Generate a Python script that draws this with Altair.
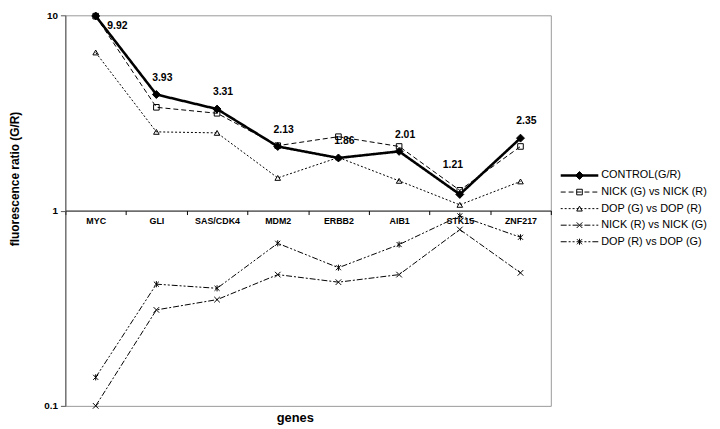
import altair as alt
import pandas as pd

# ---- data ----
genes = ["MYC", "GLI", "SAS/CDK4", "MDM2", "ERBB2", "AIB1", "STK15", "ZNF217"]
series_names = [
    "CONTROL(G/R)",
    "NICK (G) vs NICK (R)",
    "DOP (G) vs DOP (R)",
    "NICK (R) vs NICK (G)",
    "DOP (R) vs DOP (G)",
]
control = [9.92, 3.93, 3.31, 2.13, 1.86, 2.01, 1.21, 2.35]
nick_g_vs_nick_r = [9.9, 3.38, 3.15, 2.15, 2.39, 2.13, 1.27, 2.13]
dop_g_vs_dop_r = [6.45, 2.53, 2.50, 1.47, 1.87, 1.42, 1.07, 1.41]
nick_r_vs_nick_g = [0.10, 0.31, 0.35, 0.47, 0.43, 0.47, 0.80, 0.48]
dop_r_vs_dop_g = [0.14, 0.42, 0.40, 0.68, 0.51, 0.67, 0.94, 0.73]

series_values = dict(zip(series_names, [control, nick_g_vs_nick_r, dop_g_vs_dop_r,
                                        nick_r_vs_nick_g, dop_r_vs_dop_g]))
# control drawn last so it sits on top
draw_order = series_names[1:] + series_names[:1]
rows = []
for s in draw_order:
    for g, v in zip(genes, series_values[s]):
        rows.append({"gene": g, "series": s, "value": v})
df = pd.DataFrame(rows)
legend_df = pd.DataFrame({"series": series_names})

# ---- styling ----
W, H = 491, 395
FONT = "Liberation Sans, Arial, Helvetica, sans-serif"
X_PATH = "M-1,-1L1,1M-1,1L1,-1"
AST_PATH = "M-0.9,-0.9L0.9,0.9M-0.9,0.9L0.9,-0.9M0,-1.1L0,1.1"
dashes = [[1, 0], [5, 3], [2, 2], [6, 2, 2, 2], [6, 2, 2, 2, 2, 2]]
widths = [2.6, 1, 1, 1, 1]
shapes = ["diamond", "square", "triangle-up", X_PATH, AST_PATH]
fills = ["black", "transparent", "transparent", "transparent", "transparent"]

dash_enc = alt.StrokeDash("series:N", scale=alt.Scale(domain=series_names, range=dashes), legend=None)
width_enc = alt.StrokeWidth("series:N", scale=alt.Scale(type="ordinal", domain=series_names, range=widths),
                            legend=None)
shape_enc = alt.Shape("series:N", scale=alt.Scale(domain=series_names, range=shapes), legend=None)
fill_enc = alt.Fill("series:N", scale=alt.Scale(domain=series_names, range=fills), legend=None)
size_enc = alt.condition(alt.datum.series == series_names[0], alt.value(64), alt.value(32))

x_enc = alt.X(
    "gene:N", sort=genes, bandPosition=0.5,
    scale=alt.Scale(type="band", paddingInner=0, paddingOuter=0),
    axis=alt.Axis(title=None, orient="bottom", offset=-H / 2, grid=False,
                  domainColor="black", domainWidth=1, tickColor="black",
                  tickSize=4, tickBand="extent", labelAngle=0, labelFont=FONT,
                  labelFontSize=9, labelFontWeight="bold", labelColor="black",
                  labelPadding=2),
)
y_enc = alt.Y(
    "value:Q",
    scale=alt.Scale(type="log", domain=[0.1, 10], nice=False),
    axis=alt.Axis(title="fluorescence ratio (G/R)", values=[0.1, 1, 10],
                  format="~g", grid=False, domainColor="#555", tickColor="#555",
                  tickSize=5, labelPadding=3, labelFont=FONT, labelFontSize=10,
                  labelFontWeight="bold", labelColor="black", titleFont=FONT,
                  titleFontSize=12, titleFontWeight="bold", titleColor="black",
                  titleX=-44, titleY=165),
)

lines = alt.Chart(df).mark_line(color="black").encode(
    x=x_enc, y=y_enc, strokeDash=dash_enc, strokeWidth=width_enc)

points = alt.Chart(df).mark_point(filled=False, color="black", strokeWidth=1, opacity=1).encode(
    x=x_enc, y=y_enc, shape=shape_enc, fill=fill_enc, size=size_enc)

ctrl_name = series_names[0]
label_base = alt.Chart(df).transform_filter(alt.datum.series == ctrl_name)
label_style = dict(font=FONT, fontSize=10.5, fontWeight="bold", color="black")

labels_main = label_base.transform_filter(
    (alt.datum.gene != "MYC") & (alt.datum.gene != "STK15")
).mark_text(dx=6, dy=-17, **label_style).encode(
    x=x_enc, y=y_enc, text=alt.Text("value:Q", format=".2f"))
labels_top = label_base.transform_filter(alt.datum.gene == "MYC").mark_text(
    dx=22, dy=10, **label_style).encode(
    x=x_enc, y=y_enc, text=alt.Text("value:Q", format=".2f"))
labels_low = label_base.transform_filter(alt.datum.gene == "STK15").mark_text(
    dx=-7, dy=-30, **label_style).encode(
    x=x_enc, y=y_enc, text=alt.Text("value:Q", format=".2f"))

main = alt.layer(lines, points, labels_main, labels_top, labels_low)

# ---- legend, drawn to the right of the plot through its own scales ----
leg_x_scale = alt.Scale(domain=[0, 1], range=[501, 539])
leg_y = alt.Y("series:N", scale=alt.Scale(type="point", domain=series_names,
                                           range=[162, 229], padding=0), axis=None)
leg_base = alt.Chart(legend_df)
leg_lines = leg_base.mark_rule(color="black").encode(
    x=alt.X(datum=0, type="quantitative", scale=leg_x_scale, axis=None),
    x2=alt.X2(datum=1), y=leg_y, strokeDash=dash_enc, strokeWidth=width_enc)
leg_points = leg_base.mark_point(filled=False, color="black", strokeWidth=1, opacity=1).encode(
    x=alt.X(datum=0.5, type="quantitative", scale=leg_x_scale, axis=None),
    y=leg_y, shape=shape_enc, fill=fill_enc, size=size_enc)
leg_text = leg_base.mark_text(align="left", baseline="middle", dx=3, font=FONT,
                              fontSize=11, color="black").encode(
    x=alt.X(datum=1, type="quantitative", scale=leg_x_scale, axis=None),
    y=leg_y, text="series:N")
legend = alt.layer(leg_lines, leg_points, leg_text)

chart = alt.layer(main, legend).resolve_scale(x="independent", y="independent").properties(
    width=W, height=H,
    autosize=alt.AutoSizeParams(type="none"),
    padding={"left": 58, "top": 5, "right": 163, "bottom": 21},
    title=alt.TitleParams("genes", orient="bottom", frame="group", offset=1, dx=-13,
                          font=FONT, fontSize=13, fontWeight="bold", color="black",
                          anchor="middle"),
).configure_view(stroke="#999", strokeWidth=1)

chart.save("out.html", embed_options={"renderer": "svg", "actions": False})
